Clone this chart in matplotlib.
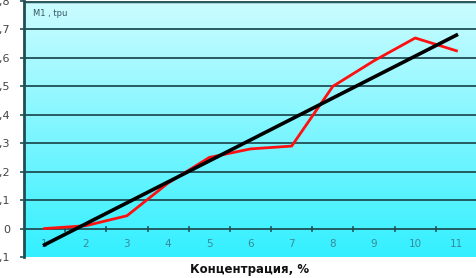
import matplotlib
matplotlib.use("Agg")
import matplotlib.pyplot as plt
import numpy as np

# data
conc = [1, 2, 3, 4, 5, 6, 7, 8, 9, 10, 11]
m1 = [0.0, 0.01, 0.045, 0.16, 0.25, 0.28, 0.29, 0.5, 0.59, 0.67, 0.625]
trend_x = [1, 11]
trend_y = [-0.057, 0.68]
yticks = [-0.1, 0.0, 0.1, 0.2, 0.3, 0.4, 0.5, 0.6, 0.7, 0.8]

W, H = 477, 278
fig = plt.figure(figsize=(W / 100, H / 100), dpi=100)
ax = fig.add_axes([24 / W, (H - 257) / H, (W - 24) / W, 256 / H])

# background gradient, light at top, stronger cyan at bottom
grad = np.linspace(0, 1, 256).reshape(-1, 1)
top = np.array([0.80, 0.99, 1.0])
bot = np.array([0.20, 0.94, 1.0])
img = top * (1 - grad[..., None]) + bot * grad[..., None]
ax.imshow(img, aspect='auto', extent=[0.5, 11.5, -0.1, 0.8], zorder=0)

for yv in yticks[2:-1]:
    ax.axhline(yv, color='#1f4f55', lw=1.3, zorder=1)
ax.axhline(0.8, color='#2a5a60', lw=2.5, zorder=1)
ax.axhline(0.0, color='#1f4f55', lw=1.3, zorder=1)

ax.plot(conc, m1, color='#ff1010', lw=2.0, zorder=3)
ax.plot(trend_x, trend_y, color='black', lw=2.6, zorder=4)

# category tick marks on the zero line
for xb in np.arange(1.5, 11.5, 1.0):
    ax.plot([xb, xb], [-0.008, 0.004], color='#1f4f55', lw=1.2, zorder=2)
for c in conc:
    ax.text(c, -0.053, str(c), ha='center', va='center', fontsize=7.5,
            color='#3a8a9a', zorder=2)

ax.set_xlim(0.5, 11.5)
ax.set_ylim(-0.1, 0.8)
ax.set_xticks([])
ax.set_yticks(yticks)
ax.set_yticklabels([('%.1f' % v).replace('.', ',') if v != 0 else '0' for v in yticks])
ax.tick_params(axis='y', length=3, width=1.2, color='#1f4f55', labelsize=8,
               labelcolor='#444444', pad=7)
for s in ['top', 'right', 'bottom']:
    ax.spines[s].set_visible(False)
ax.spines['left'].set_color('#1f4f55')
ax.spines['left'].set_linewidth(2)

ax.text(0.72, 0.755, 'M1 , tpu', fontsize=6, color='#335566', va='center')
fig.text(250 / W, 1 - 270 / H, 'Концентрация, %', ha='center', va='center',
         fontsize=8.5, fontweight='bold', color='#111111')

fig.savefig('out.png', dpi=100)
